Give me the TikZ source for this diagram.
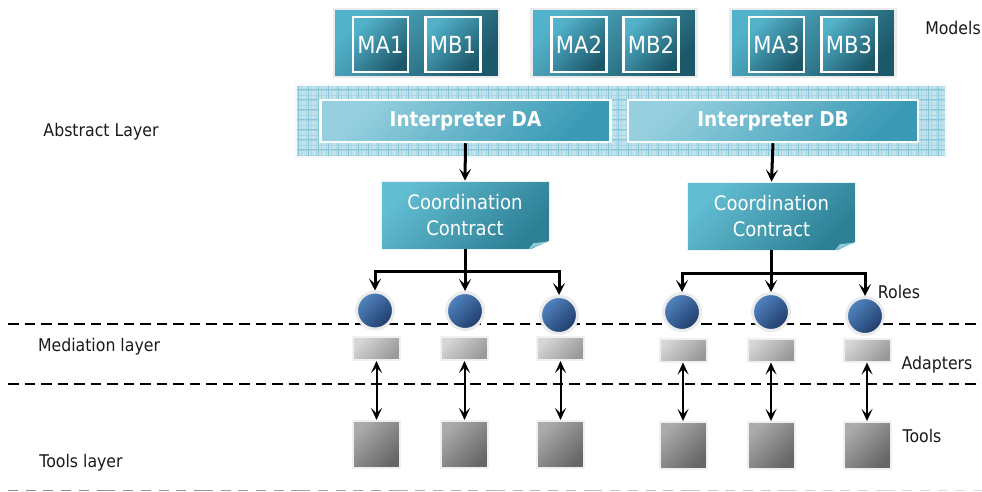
\documentclass[tikz,border=0pt]{standalone}
\usepackage{fontspec}
\setmainfont{DejaVu Sans}[FakeStretch=0.9]
\usetikzlibrary{arrows.meta,calc}
\definecolor{tealL}{HTML}{52B2CA}
\definecolor{tealD}{HTML}{1D586A}
\definecolor{intL}{HTML}{96D0DF}
\definecolor{intD}{HTML}{3A9AB5}
\definecolor{ccL}{HTML}{62BDD2}
\definecolor{ccD}{HTML}{2D7F94}
\definecolor{ccF}{HTML}{8CCBDA}
\definecolor{gridbg}{HTML}{C2E2EC}
\definecolor{gridln}{HTML}{86C5D7}
\definecolor{roleL}{HTML}{5285C2}
\definecolor{roleD}{HTML}{1E3C69}
\definecolor{labc}{HTML}{1A1A1A}
\tikzset{
  grp/.style={rectangle, inner sep=0, minimum width=165, minimum height=68,
    draw=black!8, line width=2.5pt, top color=tealL, bottom color=tealD, shading angle=45},
  mdl/.style={rectangle, inner sep=0, minimum width=55, minimum height=55,
    draw=white, line width=2.2pt, top color=tealL, bottom color=tealD, shading angle=45,
    text=white, font=\fontsize{23.5}{26}\selectfont},
  interp/.style={rectangle, inner sep=0, minimum width=290, minimum height=42,
    draw=white!90!gridbg, line width=2.5pt, top color=intL, bottom color=intD, shading angle=45,
    text=white, font=\bfseries\fontsize{20.5}{24}\selectfont},
  ccbox/.style={rectangle, inner sep=0, minimum width=168, minimum height=68,
    draw=white!85!ccL, line width=0.6pt,
    top color=ccL, bottom color=ccD, shading angle=45, align=center,
    text=white, font=\fontsize{20}{26}\selectfont},
  role/.style={circle, inner sep=0, minimum size=37, draw=black!8, line width=3pt,
    top color=roleL, bottom color=roleD, shading angle=45},
  adapter/.style={rectangle, inner sep=0, minimum width=47, minimum height=23,
    draw=black!6, line width=2pt, top color=black!16, bottom color=black!40, shading angle=45},
  tool/.style={rectangle, inner sep=0, minimum width=47, minimum height=47,
    draw=black!6, line width=2pt, top color=black!33, bottom color=black!60, shading angle=45},
  lab/.style={text=labc, font=\fontsize{17.5}{21}\selectfont, inner sep=0},
  tree/.style={draw=black, line width=3pt, -{Stealth[length=12pt,width=12pt,inset=5.5pt]}},
  dbl/.style={draw=black, line width=2pt, {Stealth[length=12pt,width=11pt,inset=5.5pt]}-{Stealth[length=12pt,width=11pt,inset=5.5pt]}},
  layerline/.style={draw=black, line width=2.5pt, dash pattern=on 10.5pt off 6pt},
}
\begin{document}
\begin{tikzpicture}[x=1pt,y=-1pt]
\useasboundingbox (0,0) rectangle (982,492);
\fill[white] (0,0) rectangle (982,492);

% layer lines
\draw[layerline] (8,324) -- (982,324);
\draw[layerline] (8,384) -- (982,384);
\foreach \i in {0,...,9}{
  \pgfmathsetmacro{\g}{45-\i*3.5}
  \draw[black!\g, line width=1.6pt, dash pattern=on 10pt off 7.7pt] (8+\i*97.4,490.5) -- ++(97.4,0);
}

% models
\node[grp] (g1) at (416.5,43) {};
\node[grp] (g2) at (614,43) {};
\node[grp] (g3) at (813,43) {};
\node[mdl] (ma1) at (380.5,44.5) {MA1};
\node[mdl] (mb1) at (453,44.5) {MB1};
\node[mdl] (ma2) at (579,44.5) {MA2};
\node[mdl] (mb2) at (651,44.5) {MB2};
\node[mdl] (ma3) at (776.5,44.5) {MA3};
\node[mdl] (mb3) at (849,44.5) {MB3};

% grid panel
\fill[gridbg] (296,85) rectangle (946,157);
\begin{scope}
\clip (296,85) rectangle (946,157);
\foreach \i in {0,...,130} \draw[gridln!40!gridbg, line width=0.4pt] (296+\i*5,85) -- ++(0,72);
\foreach \j in {0,...,15} \draw[gridln!40!gridbg, line width=0.4pt] (296,85+\j*5) -- ++(650,0);
\foreach \i in {0,...,65} \draw[gridln, line width=0.8pt] (298+\i*10,85) -- ++(0,72);
\foreach \j in {0,...,7} \draw[gridln, line width=0.8pt] (296,89+\j*10) -- ++(650,0);
\end{scope}
\draw[white!80!gridbg, line width=1.5pt] (296,85) rectangle (946,157);
\node[interp] (ida) at (465.5,121) {Interpreter DA};
\node[interp] (idb) at (773,121) {Interpreter DB};

% coordination contracts
\node[ccbox] (cc1) at (465,215) {Coordination\\Contract};
\node[ccbox] (cc2) at (771.5,216) {Coordination\\Contract};
\foreach \c in {cc1,cc2}{
  \fill[white] ($(\c.south east)+(-21,1)$) -- ($(\c.south east)+(1,1)$) -- ($(\c.south east)+(1,-9)$) -- cycle;
  \fill[ccF] ($(\c.south east)+(-21,0)$) -- ($(\c.south east)+(0,-8)$) -- ($(\c.south east)+(-16,-6)$) -- cycle;
}
\draw[tree] (ida.south) -- (cc1.north);
\draw[tree] (idb.south) -- (cc2.north);

% roles
\node[role] (r1) at (375,310.5) {};
\node[role] (r2) at (465,311) {};
\node[role] (r3) at (559,315) {};
\node[role] (r4) at (682,312) {};
\node[role] (r5) at (771,312) {};
\node[role] (r6) at (865,316) {};
\coordinate (b1) at (465,271);
\coordinate (b2) at (771.5,273);
\foreach \r in {r1,r2,r3} \draw[tree] (cc1.south) -- (b1) -| (\r.north);
\foreach \r in {r4,r5,r6} \draw[tree] (cc2.south) -- (b2) -| (\r.north);

% adapters and tools
\node[adapter] (a1) at (376.5,348.5) {};
\node[adapter] (a2) at (464.5,348.5) {};
\node[adapter] (a3) at (560.5,348.5) {};
\node[adapter] (a4) at (683,350) {};
\node[adapter] (a5) at (771,350) {};
\node[adapter] (a6) at (867,350) {};
\node[tool] (t1) at (376.5,444.5) {};
\node[tool] (t2) at (464.5,444.5) {};
\node[tool] (t3) at (560.5,444.5) {};
\node[tool] (t4) at (683,445.5) {};
\node[tool] (t5) at (771,445.5) {};
\node[tool] (t6) at (867,445.5) {};
\foreach \k in {1,...,6} \draw[dbl] (a\k.south) -- (t\k.north);

% labels
\node[lab] (lmodels) at (953,28) {Models};
\node[lab] (labs) at (101,132) {Abstract Layer};
\node[lab] (lroles) at (899,292) {Roles};
\node[lab] (lmed) at (99,347) {Mediation layer};
\node[lab] (ladapt) at (937,365) {Adapters};
\node[lab] (ltools) at (922,436) {Tools};
\node[lab] (ltl) at (81,463) {Tools layer};
\end{tikzpicture}
\end{document}
